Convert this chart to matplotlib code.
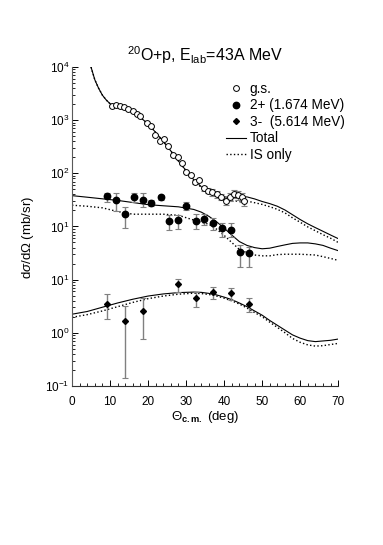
import numpy as np
import matplotlib
matplotlib.use('Agg')
import matplotlib.pyplot as plt
from matplotlib.lines import Line2D
from matplotlib.ticker import FixedLocator, FixedFormatter, LogLocator, MultipleLocator, NullFormatter

plt.rcParams['font.family'] = ['Liberation Sans', 'DejaVu Sans']
plt.rcParams['mathtext.fontset'] = 'custom'
plt.rcParams['mathtext.rm'] = 'Liberation Sans'
plt.rcParams['mathtext.it'] = 'Liberation Sans:italic'
plt.rcParams['mathtext.bf'] = 'Liberation Sans:bold'

# ---- g.s. data (mb/sr), drawn x10 ----
gs_scale = 10
gs_ang = [10.4, 11.5, 12.6, 13.7, 14.8, 16.0, 17.0, 18.0, 19.6, 20.7, 21.9, 23.2, 24.3, 25.3, 26.6, 27.8,
          29.0, 30.1, 31.2, 32.3, 33.4, 34.7, 35.8, 36.9, 38.0, 39.1, 40.4, 41.5, 42.5, 43.6, 44.8, 45.2]
gs_val = [1862, 1905, 1862, 1738, 1622, 1479, 1318, 1175, 891, 776, 537, 398, 437, 331, 219, 200,
          158, 107, 93, 69, 74, 52, 47, 44, 41, 36, 30, 36, 41, 39, 36, 30]
gs_err = [60, 60, 60, 55, 50, 45, 40, 35, 30, 25, 18, 13, 14, 11, 8, 7,
          6, 5, 5, 5, 5, 5, 5, 6, 6, 5, 5, 6, 7, 7, 7, 6]

# ---- 2+ (1.674 MeV) data (mb/sr), drawn x10 ----
ex2_scale = 10
ex2_ang = [9.3, 11.6, 13.9, 16.3, 18.6, 20.9, 23.3, 25.6, 27.9, 30.1, 32.5, 34.8, 37.1, 39.5, 41.8, 44.1, 46.5]
ex2_val = [37.9, 31.6, 17.2, 35.4, 31.6, 28.1, 35.4, 12.7, 13.2, 24.3, 12.7, 13.8, 11.5, 9.25, 8.59, 3.36, 3.13]
ex2_hi = [43.3, 43.3, 23.6, 43.3, 43.3, 31.6, 39.2, 16.4, 16.4, 29.3, 17.2, 17.0, 14.3, 11.8, 11.5, 4.49, 4.17]
ex2_lo = [29.3, 19.8, 9.25, 28.5, 23.6, 24.3, 31.6, 8.59, 8.87, 20.5, 8.87, 10.7, 8.6, 6.43, 6.43, 1.75, 1.71]

# ---- 3- (5.614 MeV) data (mb/sr) ----
ex3_ang = [9.3, 13.9, 18.6, 27.9, 32.5, 37.1, 41.8, 46.5]
ex3_val = [3.49, 1.69, 2.58, 8.18, 4.47, 5.79, 5.55, 3.44]
ex3_hi = [5.31, 3.20, 4.47, 10.2, 5.94, 7.19, 6.89, 4.47]
ex3_lo = [1.80, 0.143, 0.766, 5.94, 3.10, 4.34, 4.15, 2.50]

# ---- calculations ----
gs_th = [5, 6, 7, 8, 9, 10, 12, 14, 16, 18, 20, 22, 24, 26, 28, 30, 32, 34, 36, 38, 40, 42, 44, 46, 48,
         50, 52, 54, 56, 58, 60, 62, 64, 66, 68, 70]
gs_tot = [10000, 5754, 3981, 2951, 2399, 2042, 1820, 1622, 1380, 1122, 851, 589, 398, 263, 170, 112, 76, 56,
          46, 40, 36, 35, 36, 36, 33, 29.5, 26.9, 24.0, 20.4, 16.6, 13.5, 11.2, 9.5, 8.1, 6.9, 5.9]
gs_is = [10000, 5754, 3981, 2951, 2399, 2042, 1820, 1622, 1380, 1122, 851, 589, 398, 263, 170, 112, 75, 54,
         43, 36, 32, 30, 30, 30, 28, 26, 23.5, 21, 18, 14.5, 12, 9.8, 8.3, 7.0, 6.0, 5.0]

ex_th = [0, 4, 8, 12, 16, 20, 24, 28, 32, 34, 36, 38, 40, 42, 44, 46, 48, 50, 52, 54, 56, 58, 60, 62, 64,
         66, 68, 70]
ex2_tot = [38.0, 35.5, 33.1, 30.9, 28.2, 25.7, 24.5, 23.4, 20.9, 18.6, 15.5, 12.3, 9.3, 6.9, 5.2, 4.4, 4.0,
           3.8, 3.9, 4.2, 4.5, 4.8, 4.9, 4.9, 4.7, 4.4, 3.9, 3.5]
ex2_is = [25.1, 24.0, 22.4, 19.1, 17.0, 17.0, 17.0, 16.2, 13.2, 12.0, 11.0, 8.9, 6.8, 5.0, 3.7, 3.2, 2.9,
          2.8, 2.8, 2.95, 3.0, 3.0, 3.0, 2.95, 2.9, 2.7, 2.5, 2.3]
ex3_tot = [2.23, 2.51, 3.02, 3.63, 4.27, 4.90, 5.37, 5.69, 5.82, 5.75, 5.50, 5.15, 4.68, 4.20, 3.63, 3.10,
           2.57, 2.14, 1.70, 1.38, 1.12, 0.91, 0.79, 0.71, 0.68, 0.70, 0.72, 0.76]
ex3_is = [1.95, 2.19, 2.57, 3.09, 3.72, 4.37, 4.90, 5.31, 5.55, 5.45, 5.25, 4.90, 4.47, 3.98, 3.47, 2.92,
          2.40, 2.00, 1.58, 1.26, 1.00, 0.78, 0.66, 0.59, 0.56, 0.57, 0.60, 0.63]

ytick_pos = [1e-1, 1e0, 1e1, 1e2, 1e3, 1e4, 1e5]
ytick_lab = [r'$10^{-1}$', r'$10^{0}$', r'$10^{1}$', r'$10^{1}$', r'$10^{2}$', r'$10^{3}$', r'$10^{4}$']

fig = plt.figure(figsize=(3.83, 5.45), dpi=100)
ax = fig.add_axes([0.188, 0.292, 0.695, 0.585])

# Curves
ax.plot(gs_th, np.array(gs_tot) * gs_scale, '-', color='black', lw=0.8)
ax.plot(gs_th, np.array(gs_is) * gs_scale, ':', color='black', lw=1.0)
ax.plot(ex_th, np.array(ex2_tot) * ex2_scale, '-', color='black', lw=0.8)
ax.plot(ex_th, np.array(ex2_is) * ex2_scale, ':', color='black', lw=1.0)
ax.plot(ex_th, ex3_tot, '-', color='black', lw=0.8)
ax.plot(ex_th, ex3_is, ':', color='black', lw=1.0)


def draw_points(ang, val, lo, hi, scale, **kw):
    val = np.array(val) * scale
    yerr = [val - np.array(lo) * scale, np.array(hi) * scale - val]
    line, caps, bars = ax.errorbar(ang, val, yerr=yerr, fmt='none', ecolor='0.5', elinewidth=1.0,
                                   capsize=2, capthick=0.8)
    for c in caps:
        c.set_color('black')
    ax.plot(ang, val, linestyle='none', zorder=3, **kw)


gs_v = np.array(gs_val)
gs_e = np.array(gs_err)
draw_points(gs_ang, gs_v, gs_v - gs_e, gs_v + gs_e, gs_scale,
            marker='o', ms=4.2, mfc='white', mec='black', mew=0.7)
draw_points(ex2_ang, ex2_val, ex2_lo, ex2_hi, ex2_scale,
            marker='o', ms=4.6, mfc='black', mec='black')
draw_points(ex3_ang, ex3_val, ex3_lo, ex3_hi, 1,
            marker='D', ms=3.0, mfc='black', mec='black')

ax.set_yscale('log')
ax.set_xlim(0, 70)
ax.set_ylim(1e-1, 1e5)

ax.yaxis.set_major_locator(FixedLocator(ytick_pos))
ax.yaxis.set_major_formatter(FixedFormatter(ytick_lab))
ax.yaxis.set_minor_locator(LogLocator(base=10, subs=np.arange(2, 10)))
ax.yaxis.set_minor_formatter(NullFormatter())
ax.xaxis.set_major_locator(MultipleLocator(10))
ax.xaxis.set_minor_locator(MultipleLocator(2))

ax.tick_params(which='both', direction='in', labelsize=8.5, colors='black')
ax.tick_params(which='major', length=4, width=0.7)
ax.tick_params(which='minor', length=2.5, width=0.6)
ax.tick_params(axis='x', pad=7)
ax.tick_params(axis='y', pad=2)

ax.spines['top'].set_visible(False)
ax.spines['right'].set_visible(False)
ax.spines['left'].set_color('0.35')
ax.spines['bottom'].set_color('0.2')

ax.set_xlabel(r'$\Theta_{\mathbf{c.m.}}$ (deg)', fontsize=9.5)
ax.xaxis.set_label_coords(0.5, -0.072)
ax.set_ylabel(r'd$\sigma$/d$\Omega$ (mb/sr)', fontsize=9.5)
ax.yaxis.set_label_coords(-0.135, 0.464)

fig.text(205 / 383, 1 - 55 / 545, r'$^{20}$O+p, E$_{\rm lab}$=43A MeV', ha='center', va='center', fontsize=11.5)

handles = [
    Line2D([], [], linestyle='none', marker='o', ms=4.2, mfc='white', mec='black', mew=0.7),
    Line2D([], [], linestyle='none', marker='o', ms=4.6, mfc='black', mec='black'),
    Line2D([], [], linestyle='none', marker='D', ms=3.0, mfc='black', mec='black'),
    Line2D([], [], linestyle='-', color='black', lw=0.8),
    Line2D([], [], linestyle=':', color='black', lw=1.0),
]
labels = ['g.s.', '2+ (1.674 MeV)', '3-  (5.614 MeV)', 'Total', 'IS only']
ax.legend(handles, labels, loc='upper left', bbox_to_anchor=(226 / 383, 1 - 82 / 545),
          bbox_transform=fig.transFigure, frameon=False, fontsize=9.8, borderpad=0, borderaxespad=0,
          handlelength=1.5, handletextpad=0.25, labelspacing=0.18)

fig.savefig('out.png', dpi=100)
